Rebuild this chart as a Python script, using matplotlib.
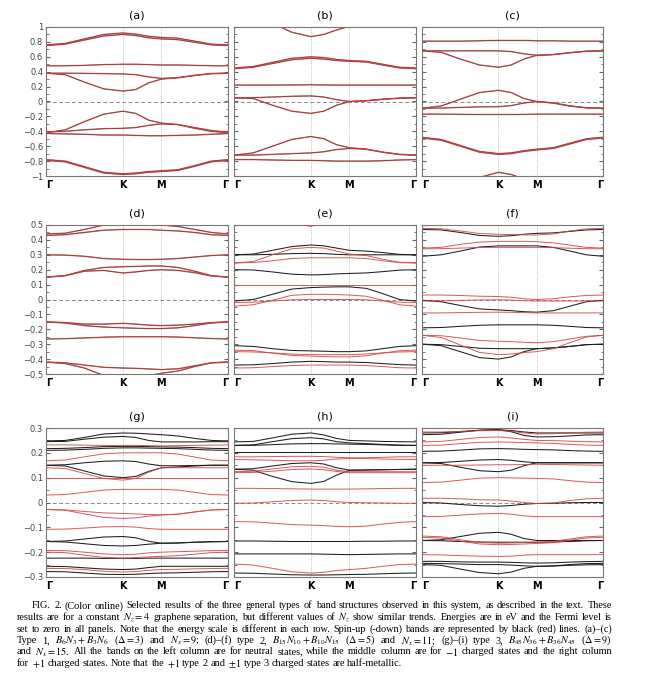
import re
import numpy as np
import matplotlib
matplotlib.use("Agg")
import matplotlib.pyplot as plt
from matplotlib.ticker import MultipleLocator, FuncFormatter

plt.rcParams['mathtext.fontset'] = 'stix'

# k-path G-K-M-G, segment lengths in units of |GK|
seg_len = [1.0, 0.5, np.sqrt(3) / 2]
k_labels = ["Γ", "K", "M", "Γ"]
k_nodes = np.concatenate([[0.0], np.cumsum(seg_len)])
# energies read at: G, GK/4, GK/2, 3GK/4, K, KM/3, 2KM/3, M, MG/4, MG/2, 3MG/4, G
kpos = np.concatenate([np.linspace(k_nodes[0], k_nodes[1], 5),
                       np.linspace(k_nodes[1], k_nodes[2], 4)[1:],
                       np.linspace(k_nodes[2], k_nodes[3], 5)[1:]])

# ---- type 1, neutral (spin degenerate)
a_bands = [
    [0.76, 0.78, 0.84, 0.90, 0.92, 0.905, 0.875, 0.86, 0.85, 0.81, 0.77, 0.76],
    [0.75, 0.77, 0.825, 0.88, 0.90, 0.885, 0.855, 0.84, 0.83, 0.795, 0.76, 0.75],
    [0.48, 0.48, 0.485, 0.495, 0.50, 0.50, 0.495, 0.49, 0.49, 0.485, 0.48, 0.48],
    [0.38, 0.38, 0.378, 0.374, 0.37, 0.36, 0.33, 0.31, 0.32, 0.35, 0.375, 0.38],
    [0.38, 0.36, 0.26, 0.17, 0.14, 0.16, 0.25, 0.30, 0.32, 0.35, 0.375, 0.38],
    [-0.42, -0.38, -0.27, -0.17, -0.13, -0.16, -0.25, -0.29, -0.31, -0.36, -0.40, -0.42],
    [-0.41, -0.40, -0.38, -0.365, -0.36, -0.35, -0.32, -0.30, -0.31, -0.35, -0.39, -0.41],
    [-0.43, -0.435, -0.44, -0.45, -0.45, -0.455, -0.46, -0.46, -0.455, -0.45, -0.44, -0.43],
    [-0.78, -0.80, -0.875, -0.95, -0.97, -0.96, -0.94, -0.93, -0.915, -0.86, -0.80, -0.78],
    [-0.79, -0.81, -0.885, -0.96, -0.98, -0.97, -0.95, -0.94, -0.925, -0.87, -0.81, -0.79],
]
# ---- type 1, -1 charged
b_bands = [
    [1.30, 1.22, 1.05, 0.93, 0.87, 0.90, 0.96, 1.01, 1.10, 1.20, 1.27, 1.30],
    [1.40, 1.35, 1.20, 1.05, 1.00, 1.03, 1.10, 1.15, 1.20, 1.30, 1.38, 1.40],
    [0.45, 0.47, 0.525, 0.58, 0.60, 0.59, 0.565, 0.55, 0.54, 0.50, 0.46, 0.45],
    [0.44, 0.46, 0.51, 0.56, 0.58, 0.57, 0.55, 0.54, 0.53, 0.49, 0.45, 0.44],
    [0.22, 0.22, 0.22, 0.222, 0.225, 0.222, 0.22, 0.22, 0.22, 0.22, 0.22, 0.22],
    [0.05, 0.052, 0.06, 0.07, 0.075, 0.06, 0.025, 0.0, 0.01, 0.03, 0.045, 0.05],
    [0.05, 0.04, -0.05, -0.13, -0.16, -0.13, -0.05, 0.0, 0.01, 0.03, 0.045, 0.05],
    [-0.72, -0.69, -0.60, -0.51, -0.47, -0.50, -0.58, -0.62, -0.64, -0.68, -0.71, -0.72],
    [-0.72, -0.72, -0.71, -0.70, -0.69, -0.675, -0.645, -0.63, -0.64, -0.68, -0.71, -0.72],
    [-0.78, -0.78, -0.785, -0.79, -0.79, -0.795, -0.80, -0.80, -0.80, -0.795, -0.785, -0.78],
]
# ---- type 1, +1 charged
c_bands = [
    [0.81, 0.81, 0.81, 0.815, 0.82, 0.82, 0.82, 0.815, 0.815, 0.81, 0.81, 0.81],
    [0.68, 0.68, 0.68, 0.68, 0.68, 0.67, 0.64, 0.62, 0.63, 0.655, 0.675, 0.68],
    [0.68, 0.66, 0.57, 0.49, 0.46, 0.49, 0.57, 0.62, 0.63, 0.655, 0.675, 0.68],
    [-0.09, -0.06, 0.03, 0.12, 0.15, 0.12, 0.04, 0.0, -0.02, -0.06, -0.085, -0.09],
    [-0.09, -0.088, -0.08, -0.072, -0.07, -0.055, -0.02, 0.0, -0.02, -0.06, -0.085, -0.09],
    [-0.17, -0.17, -0.172, -0.175, -0.175, -0.175, -0.173, -0.17, -0.17, -0.17, -0.17, -0.17],
    [-0.48, -0.51, -0.59, -0.67, -0.70, -0.69, -0.66, -0.64, -0.62, -0.56, -0.50, -0.48],
    [-0.49, -0.52, -0.60, -0.68, -0.71, -0.70, -0.67, -0.65, -0.63, -0.57, -0.51, -0.49],
    [-1.30, -1.25, -1.15, -1.02, -0.95, -0.98, -1.04, -1.10, -1.18, -1.25, -1.28, -1.30],
]
# ---- type 2, neutral
d_bands = [
    [0.44, 0.445, 0.47, 0.50, 0.52, 0.52, 0.51, 0.50, 0.49, 0.47, 0.45, 0.44],
    [0.43, 0.435, 0.45, 0.465, 0.47, 0.47, 0.47, 0.465, 0.46, 0.45, 0.435, 0.43],
    [0.30, 0.298, 0.29, 0.275, 0.27, 0.268, 0.268, 0.27, 0.275, 0.285, 0.295, 0.30],
    [0.15, 0.16, 0.195, 0.215, 0.22, 0.222, 0.225, 0.225, 0.215, 0.19, 0.16, 0.15],
    [0.15, 0.16, 0.19, 0.195, 0.178, 0.185, 0.195, 0.20, 0.195, 0.18, 0.158, 0.15],
    [-0.15, -0.155, -0.165, -0.165, -0.16, -0.165, -0.172, -0.175, -0.172, -0.165, -0.155, -0.15],
    [-0.15, -0.158, -0.175, -0.185, -0.19, -0.193, -0.195, -0.195, -0.19, -0.175, -0.158, -0.15],
    [-0.265, -0.263, -0.258, -0.253, -0.25, -0.25, -0.25, -0.25, -0.252, -0.257, -0.262, -0.265],
    [-0.42, -0.425, -0.44, -0.455, -0.46, -0.462, -0.466, -0.47, -0.465, -0.445, -0.425, -0.42],
    [-0.42, -0.43, -0.46, -0.51, -0.54, -0.53, -0.51, -0.495, -0.48, -0.45, -0.425, -0.42],
]
# ---- type 2, -1 charged
e_up = [
    [0.30, 0.305, 0.33, 0.355, 0.366, 0.36, 0.345, 0.33, 0.325, 0.315, 0.303, 0.30],
    [0.30, 0.30, 0.303, 0.308, 0.31, 0.308, 0.303, 0.30, 0.30, 0.30, 0.30, 0.30],
    [0.20, 0.198, 0.185, 0.17, 0.165, 0.167, 0.172, 0.175, 0.178, 0.187, 0.197, 0.20],
    [-0.01, 0.0, 0.035, 0.07, 0.08, 0.083, 0.085, 0.085, 0.075, 0.04, 0.0, -0.01],
    [-0.31, -0.315, -0.33, -0.342, -0.345, -0.347, -0.35, -0.35, -0.345, -0.33, -0.315, -0.31],
    [-0.44, -0.438, -0.43, -0.42, -0.415, -0.417, -0.42, -0.42, -0.423, -0.43, -0.437, -0.44],
]
e_dn = [
    [0.80, 0.75, 0.62, 0.52, 0.49, 0.52, 0.60, 0.66, 0.72, 0.77, 0.79, 0.80],
    [0.245, 0.255, 0.30, 0.34, 0.35, 0.345, 0.325, 0.305, 0.295, 0.27, 0.25, 0.245],
    [0.245, 0.248, 0.26, 0.275, 0.28, 0.28, 0.28, 0.28, 0.275, 0.26, 0.248, 0.245],
    [0.10, 0.10, 0.10, 0.10, 0.10, 0.10, 0.10, 0.10, 0.10, 0.10, 0.10, 0.10],
    [-0.045, -0.035, -0.005, 0.028, 0.035, 0.035, 0.033, 0.03, 0.022, -0.005, -0.035, -0.045],
    [-0.02, -0.018, -0.01, -0.002, 0.0, 0.0, 0.0, 0.0, -0.002, -0.01, -0.018, -0.02],
    [-0.35, -0.352, -0.358, -0.366, -0.37, -0.37, -0.37, -0.37, -0.366, -0.358, -0.352, -0.35],
    [-0.34, -0.343, -0.36, -0.375, -0.38, -0.383, -0.385, -0.385, -0.378, -0.36, -0.344, -0.34],
    [-0.46, -0.458, -0.45, -0.443, -0.44, -0.44, -0.44, -0.44, -0.443, -0.45, -0.458, -0.46],
]
# ---- type 2, +1 charged
f_up = [
    [0.47, 0.467, 0.45, 0.43, 0.424, 0.428, 0.438, 0.444, 0.447, 0.457, 0.467, 0.47],
    [0.29, 0.30, 0.325, 0.352, 0.36, 0.36, 0.36, 0.36, 0.35, 0.325, 0.30, 0.29],
    [-0.005, -0.015, -0.04, -0.063, -0.07, -0.075, -0.082, -0.085, -0.075, -0.045, -0.015, -0.005],
    [-0.19, -0.188, -0.18, -0.173, -0.17, -0.17, -0.17, -0.17, -0.173, -0.18, -0.188, -0.19],
    [-0.30, -0.303, -0.315, -0.327, -0.33, -0.33, -0.33, -0.33, -0.325, -0.315, -0.303, -0.30],
    [-0.30, -0.31, -0.35, -0.39, -0.40, -0.385, -0.35, -0.33, -0.325, -0.315, -0.303, -0.30],
]
f_dn = [
    [0.478, 0.475, 0.46, 0.443, 0.4375, 0.436, 0.434, 0.433, 0.44, 0.46, 0.474, 0.478],
    [0.345, 0.35, 0.37, 0.385, 0.39, 0.39, 0.39, 0.388, 0.38, 0.365, 0.35, 0.345],
    [0.34, 0.341, 0.345, 0.349, 0.35, 0.35, 0.35, 0.35, 0.348, 0.344, 0.341, 0.34],
    [0.03, 0.03, 0.027, 0.022, 0.02, 0.015, 0.005, 0.0, 0.005, 0.018, 0.027, 0.03],
    [-0.01, -0.009, -0.006, -0.003, -0.002, -0.004, -0.008, -0.01, -0.01, -0.01, -0.01, -0.01],
    [-0.09, -0.09, -0.088, -0.086, -0.085, -0.086, -0.088, -0.09, -0.09, -0.09, -0.09, -0.09],
    [-0.24, -0.243, -0.258, -0.275, -0.28, -0.283, -0.287, -0.29, -0.283, -0.265, -0.247, -0.24],
    [-0.24, -0.255, -0.305, -0.355, -0.37, -0.366, -0.356, -0.35, -0.33, -0.29, -0.252, -0.24],
]
# ---- type 3, neutral
g_up = [
    [0.248, 0.25, 0.262, 0.276, 0.28, 0.279, 0.276, 0.273, 0.268, 0.258, 0.25, 0.248],
    [0.245, 0.246, 0.255, 0.263, 0.266, 0.262, 0.25, 0.244, 0.244, 0.244, 0.245, 0.245],
    [0.217, 0.218, 0.221, 0.225, 0.226, 0.226, 0.225, 0.224, 0.223, 0.221, 0.218, 0.217],
    [0.21, 0.211, 0.214, 0.218, 0.22, 0.22, 0.219, 0.218, 0.217, 0.214, 0.211, 0.21],
    [0.15, 0.152, 0.16, 0.166, 0.168, 0.165, 0.155, 0.148, 0.148, 0.149, 0.15, 0.15],
    [0.15, 0.147, 0.127, 0.107, 0.10, 0.105, 0.125, 0.14, 0.143, 0.147, 0.15, 0.15],
    [-0.157, -0.155, -0.147, -0.139, -0.137, -0.142, -0.156, -0.164, -0.163, -0.16, -0.158, -0.157],
    [-0.157, -0.159, -0.166, -0.173, -0.175, -0.173, -0.168, -0.164, -0.163, -0.16, -0.158, -0.157],
    [-0.224, -0.224, -0.224, -0.225, -0.225, -0.225, -0.224, -0.224, -0.224, -0.224, -0.224, -0.224],
    [-0.257, -0.258, -0.263, -0.268, -0.27, -0.268, -0.262, -0.257, -0.257, -0.257, -0.257, -0.257],
    [-0.278, -0.279, -0.284, -0.289, -0.29, -0.289, -0.286, -0.284, -0.283, -0.281, -0.279, -0.278],
]
g_dn = [
    [0.232, 0.232, 0.231, 0.23, 0.23, 0.23, 0.229, 0.228, 0.229, 0.23, 0.231, 0.232],
    [0.168, 0.171, 0.184, 0.196, 0.20, 0.20, 0.20, 0.20, 0.195, 0.183, 0.171, 0.168],
    [0.14, 0.137, 0.117, 0.097, 0.09, 0.097, 0.122, 0.14, 0.14, 0.14, 0.14, 0.14],
    [0.10, 0.10, 0.10, 0.10, 0.10, 0.10, 0.10, 0.10, 0.10, 0.10, 0.10, 0.10],
    [0.03, 0.032, 0.041, 0.05, 0.053, 0.053, 0.053, 0.053, 0.05, 0.041, 0.032, 0.03],
    [-0.028, -0.031, -0.046, -0.06, -0.064, -0.062, -0.055, -0.05, -0.047, -0.038, -0.03, -0.028],
    [-0.028, -0.03, -0.036, -0.042, -0.044, -0.046, -0.048, -0.05, -0.047, -0.038, -0.03, -0.028],
    [-0.108, -0.107, -0.103, -0.098, -0.097, -0.099, -0.105, -0.108, -0.108, -0.108, -0.108, -0.108],
    [-0.193, -0.194, -0.2, -0.207, -0.21, -0.208, -0.203, -0.2, -0.198, -0.196, -0.194, -0.193],
    [-0.20, -0.202, -0.212, -0.221, -0.224, -0.222, -0.219, -0.217, -0.214, -0.208, -0.202, -0.20],
    [-0.265, -0.266, -0.27, -0.277, -0.28, -0.278, -0.273, -0.27, -0.269, -0.267, -0.266, -0.265],
]
# ---- type 3, -1 charged
h_up = [
    [0.244, 0.246, 0.26, 0.275, 0.28, 0.272, 0.258, 0.25, 0.248, 0.246, 0.245, 0.244],
    [0.23, 0.232, 0.245, 0.257, 0.261, 0.256, 0.245, 0.24, 0.237, 0.234, 0.231, 0.23],
    [0.23, 0.23, 0.233, 0.236, 0.237, 0.237, 0.236, 0.235, 0.234, 0.232, 0.23, 0.23],
    [0.204, 0.204, 0.204, 0.204, 0.204, 0.204, 0.204, 0.204, 0.204, 0.204, 0.204, 0.204],
    [0.134, 0.136, 0.147, 0.157, 0.16, 0.155, 0.14, 0.13, 0.131, 0.132, 0.133, 0.134],
    [0.134, 0.13, 0.105, 0.084, 0.077, 0.085, 0.11, 0.13, 0.131, 0.132, 0.133, 0.134],
    [-0.155, -0.155, -0.156, -0.157, -0.157, -0.157, -0.157, -0.157, -0.156, -0.156, -0.155, -0.155],
    [-0.207, -0.207, -0.207, -0.207, -0.207, -0.208, -0.209, -0.21, -0.209, -0.208, -0.207, -0.207],
    [-0.284, -0.285, -0.288, -0.291, -0.292, -0.292, -0.291, -0.29, -0.289, -0.287, -0.285, -0.284],
]
h_dn = [
    [0.184, 0.184, 0.185, 0.186, 0.186, 0.185, 0.182, 0.18, 0.18, 0.182, 0.184, 0.184],
    [0.173, 0.172, 0.17, 0.168, 0.168, 0.17, 0.175, 0.177, 0.177, 0.175, 0.174, 0.173],
    [0.124, 0.126, 0.135, 0.144, 0.146, 0.142, 0.13, 0.124, 0.124, 0.124, 0.124, 0.124],
    [0.12, 0.121, 0.126, 0.133, 0.135, 0.132, 0.125, 0.12, 0.12, 0.12, 0.12, 0.12],
    [0.057, 0.057, 0.056, 0.055, 0.054, 0.054, 0.054, 0.054, 0.055, 0.056, 0.057, 0.057],
    [-0.003, -0.002, 0.003, 0.008, 0.01, 0.008, 0.003, 0.0, -0.001, -0.002, -0.003, -0.003],
    [-0.077, -0.078, -0.083, -0.089, -0.091, -0.093, -0.096, -0.098, -0.095, -0.087, -0.08, -0.077],
    [-0.248, -0.252, -0.265, -0.279, -0.284, -0.281, -0.274, -0.27, -0.265, -0.257, -0.25, -0.248],
]
# ---- type 3, +1 charged
i_up = [
    [0.28, 0.281, 0.286, 0.291, 0.293, 0.29, 0.284, 0.28, 0.28, 0.28, 0.28, 0.28],
    [0.273, 0.275, 0.283, 0.291, 0.293, 0.285, 0.27, 0.264, 0.265, 0.268, 0.272, 0.273],
    [0.206, 0.207, 0.211, 0.216, 0.217, 0.216, 0.214, 0.213, 0.212, 0.209, 0.207, 0.206],
    [0.16, 0.161, 0.166, 0.171, 0.173, 0.17, 0.164, 0.16, 0.16, 0.16, 0.16, 0.16],
    [0.16, 0.157, 0.142, 0.128, 0.124, 0.13, 0.148, 0.16, 0.16, 0.16, 0.16, 0.16],
    [0.0, -0.002, -0.008, -0.013, -0.015, -0.012, -0.007, -0.004, -0.003, -0.001, 0.0, 0.0],
    [-0.153, -0.15, -0.137, -0.124, -0.12, -0.128, -0.145, -0.153, -0.153, -0.153, -0.153, -0.153],
    [-0.153, -0.154, -0.157, -0.159, -0.16, -0.16, -0.16, -0.16, -0.159, -0.157, -0.154, -0.153],
    [-0.237, -0.237, -0.239, -0.24, -0.24, -0.241, -0.243, -0.244, -0.243, -0.24, -0.238, -0.237],
    [-0.245, -0.246, -0.248, -0.25, -0.25, -0.252, -0.255, -0.257, -0.255, -0.25, -0.246, -0.245],
    [-0.25, -0.253, -0.268, -0.282, -0.287, -0.28, -0.265, -0.257, -0.256, -0.253, -0.251, -0.25],
]
i_dn = [
    [0.284, 0.284, 0.286, 0.289, 0.29, 0.287, 0.28, 0.276, 0.277, 0.28, 0.283, 0.284],
    [0.244, 0.246, 0.254, 0.262, 0.264, 0.26, 0.254, 0.25, 0.249, 0.247, 0.245, 0.244],
    [0.23, 0.231, 0.237, 0.242, 0.244, 0.243, 0.241, 0.24, 0.238, 0.234, 0.231, 0.23],
    [0.15, 0.15, 0.15, 0.151, 0.152, 0.152, 0.153, 0.154, 0.153, 0.152, 0.151, 0.15],
    [0.08, 0.082, 0.09, 0.098, 0.10, 0.099, 0.098, 0.097, 0.095, 0.088, 0.082, 0.08],
    [0.017, 0.017, 0.015, 0.011, 0.01, 0.006, 0.0, -0.004, -0.002, 0.008, 0.015, 0.017],
    [-0.057, -0.056, -0.051, -0.046, -0.044, -0.047, -0.054, -0.057, -0.057, -0.057, -0.057, -0.057],
    [-0.135, -0.138, -0.15, -0.161, -0.164, -0.163, -0.161, -0.16, -0.157, -0.147, -0.138, -0.135],
    [-0.14, -0.143, -0.155, -0.167, -0.17, -0.169, -0.167, -0.165, -0.162, -0.152, -0.143, -0.14],
    [-0.21, -0.211, -0.214, -0.216, -0.217, -0.216, -0.212, -0.21, -0.21, -0.21, -0.21, -0.21],
]

row_ylim = [(-1, 1), (-0.5, 0.5), (-0.3, 0.3)]
row_major = [0.2, 0.1, 0.1]
row_minor = [0.1, 0.05, 0.05]

caption = [
    r"FIG. 2.  (Color online) Selected results of the three general types of band structures observed in this system, as described in the text. These",
    r"results are for a constant $N_z = 4$ graphene separation, but different values of $N_z$ show similar trends. Energies are in eV and the Fermi level is",
    r"set to zero in all panels. Note that the energy scale is different in each row. Spin-up (-down) bands are represented by black (red) lines. (a)–(c)",
    r"Type 1, $B_6N_3 + B_3N_6$ ($\Delta = 3$) and $N_x = 9$; (d)–(f) type 2, $B_{15}N_{10} + B_{10}N_{15}$ ($\Delta = 5$) and $N_x = 11$; (g)–(i) type 3, $B_{45}N_{36} + B_{36}N_{45}$ ($\Delta = 9$)",
    r"and $N_x = 15$. All the bands on the left column are for neutral states, while the middle column are for $-1$ charged states and the right column",
    r"for $+1$ charged states. Note that the $+1$ type 2 and $\pm1$ type 3 charged states are half-metallic.",
]

RED = '#d64545'
BLACK = '#1e1e1e'

W, H = 648, 681
fig = plt.figure(figsize=(W / 100, H / 100), dpi=100)

col_left = [46, 234, 422]
col_w = [182, 182, 181]
row_top = [27, 225, 428]
ax_h = 149

panels = [
    ('(a)', a_bands, a_bands, True), ('(b)', b_bands, b_bands, True), ('(c)', c_bands, c_bands, True),
    ('(d)', d_bands, d_bands, True), ('(e)', e_up, e_dn, False), ('(f)', f_up, f_dn, False),
    ('(g)', g_up, g_dn, False), ('(h)', h_up, h_dn, False), ('(i)', i_up, i_dn, False),
]


def fmt(v, pos):
    if abs(v) < 1e-9:
        return '0'
    return ('%g' % round(v, 3)).replace('-', '\u2212')


for n, (title, up, dn, neutral) in enumerate(panels):
    r, c = divmod(n, 3)
    ax = fig.add_axes([col_left[c] / W, 1 - (row_top[r] + ax_h) / H, col_w[c] / W, ax_h / H])
    ax.axhline(0, color='#8a8a8a', lw=0.7, ls=(0, (4, 2.5)), zorder=1)
    for xk in k_nodes[1:3]:
        ax.axvline(xk, color='#a8a8a8', lw=0.6, ls=':', zorder=1)
    for band in up:
        ax.plot(kpos, band, color=BLACK, lw=0.6 if neutral else 0.75, zorder=2)
    for band in dn:
        if neutral:
            ax.plot(kpos, band, color=RED, lw=1.1, alpha=0.6, zorder=3)
        else:
            ax.plot(kpos, band, color=RED, lw=0.7, alpha=0.9, zorder=3)
    ax.set_xlim(k_nodes[0], k_nodes[-1])
    ax.set_ylim(*row_ylim[r])
    ax.yaxis.set_major_locator(MultipleLocator(row_major[r]))
    ax.yaxis.set_minor_locator(MultipleLocator(row_minor[r]))
    ax.yaxis.set_major_formatter(FuncFormatter(fmt))
    ax.tick_params(axis='y', which='both', direction='in', left=True, right=True,
                   labelsize=6, labelcolor='#444444', color='#666666', pad=2)
    ax.tick_params(axis='y', which='major', length=3)
    ax.tick_params(axis='y', which='minor', length=1.8)
    if c > 0:
        ax.tick_params(axis='y', labelleft=False)
    ax.set_xticks(k_nodes)
    ax.set_xticklabels(k_labels, fontweight='bold', fontsize=7)
    ax.tick_params(axis='x', length=0, pad=3)
    xl = ax.get_xticklabels()
    xl[0].set_ha('left')
    xl[-1].set_ha('right')
    for s in ax.spines.values():
        s.set_color('#777777')
        s.set_linewidth(0.8)
    ax.set_title(title, fontsize=8, pad=6)

# caption, justified line by line
renderer = fig.canvas.get_renderer()
cap_y = [606, 617.5, 629, 640.5, 652, 663.5]
cap_x0 = [32, 17, 17, 17, 17, 17]
cap_x1 = 612
base = 6.3
# pick the font size so that the lines fit the column with normal spacing
ratios = []
for j, line in enumerate(caption[:-1]):
    t = fig.text(0, 0, line, fontsize=base, family='Liberation Serif')
    ratios.append((cap_x1 - cap_x0[j]) / t.get_window_extent(renderer).width)
    t.remove()
cap_fs = base * min(ratios) * 0.99

for j, line in enumerate(caption):
    tokens = re.findall(r'(?:[^\s$]|\$[^$]*\$)+', line)
    arts = [fig.text(0, 1 - cap_y[j] / H, t, fontsize=cap_fs, family='Liberation Serif',
                     va='center', ha='left') for t in tokens]
    widths = [a.get_window_extent(renderer).width for a in arts]
    if j < len(caption) - 1:
        gap = (cap_x1 - cap_x0[j] - sum(widths)) / (len(tokens) - 1)
    else:
        gap = cap_fs * 0.25 * 100 / 72
    x = cap_x0[j]
    for a, w in zip(arts, widths):
        a.set_x(x / W)
        x += w + gap

fig.savefig('out.png', dpi=100, facecolor='white')
